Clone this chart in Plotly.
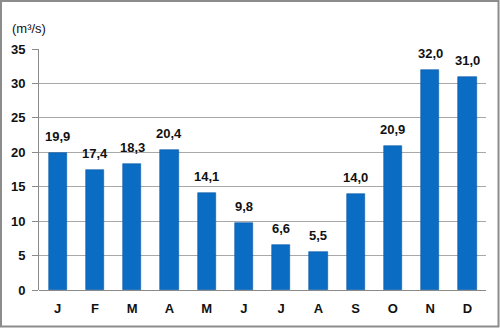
import plotly.graph_objects as go

months = ["J", "F", "M", "A", "M", "J", "J", "A", "S", "O", "N", "D"]
flow = [19.9, 17.4, 18.3, 20.4, 14.1, 9.8, 6.6, 5.5, 14.0, 20.9, 32.0, 31.0]
y_ticks = [0, 5, 10, 15, 20, 25, 30, 35]

x_pos = list(range(len(months)))

W, H = 500, 328
L, R, T, B = 39, 14, 49, 38
pw, ph = W - L - R, H - T - B

font = "Liberation Sans, Arial, sans-serif"
bold = dict(family=font, size=13, color="#111111", weight="bold")

fig = go.Figure(
    go.Bar(
        x=x_pos,
        y=flow,
        width=0.49,
        marker=dict(color="#0b6cc4", line=dict(color="#0a5aa6", width=0.6)),
        hoverinfo="skip",
    )
)

# value labels above each bar, decimal comma
value_labels = [
    dict(
        x=xi,
        y=v,
        xref="x",
        yref="y",
        text=f"{v:.1f}".replace(".", ","),
        showarrow=False,
        yanchor="bottom",
        yshift=7,
        font=bold,
    )
    for xi, v in zip(x_pos, flow)
]

fig.update_layout(
    width=W,
    height=H,
    margin=dict(l=L, r=R, t=T, b=B),
    paper_bgcolor="white",
    plot_bgcolor="white",
    showlegend=False,
    bargap=0,
    font=dict(family=font, size=13, color="#111111"),
    xaxis=dict(
        tickmode="array",
        tickvals=x_pos,
        ticktext=months,
        range=[-0.5, len(months) - 0.5],
        showgrid=False,
        showline=False,
        ticks="",
        ticklabelstandoff=9,
        tickfont=bold,
        fixedrange=True,
    ),
    yaxis=dict(
        range=[0, 35],
        tickvals=y_ticks,
        showgrid=True,
        gridcolor="#a8a8a8",
        gridwidth=1,
        showline=True,
        linecolor="#8a8a8a",
        linewidth=1,
        ticks="outside",
        ticklen=6,
        tickcolor="#8a8a8a",
        ticklabelstandoff=4,
        tickfont=bold,
        zeroline=True,
        zerolinecolor="#8a8a8a",
        zerolinewidth=1,
        fixedrange=True,
    ),
    annotations=value_labels
    + [
        dict(
            text="(m³/s)",
            xref="paper",
            yref="paper",
            x=(10 - L) / pw,
            y=(H - B - 28) / ph,
            xanchor="left",
            yanchor="middle",
            showarrow=False,
            font=dict(family=font, size=13, color="#111111"),
        )
    ],
    shapes=[
        dict(
            type="rect",
            xref="paper",
            yref="paper",
            x0=(1 - L) / pw,
            x1=(W - 1.5 - L) / pw,
            y0=(H - B - (H - 1.5)) / ph,
            y1=(H - B - 1) / ph,
            line=dict(color="#8c8c8c", width=2),
            layer="below",
        )
    ],
)

fig.write_html("out.html")
